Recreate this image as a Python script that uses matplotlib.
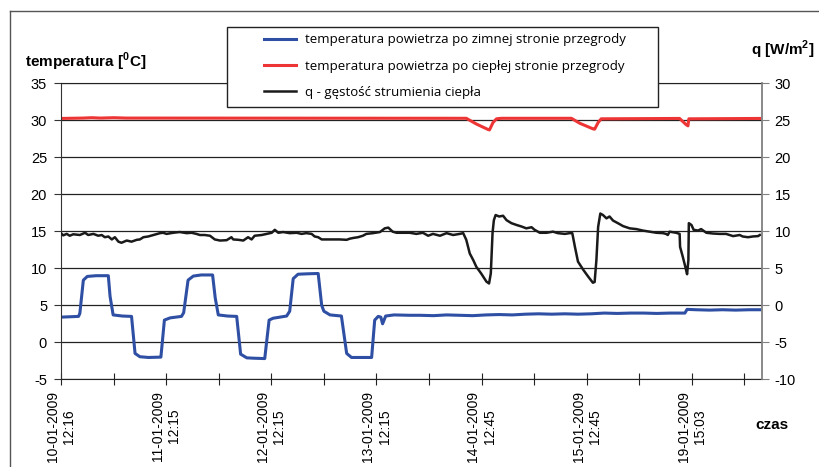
import matplotlib
matplotlib.use('Agg')
import matplotlib.pyplot as plt
from matplotlib.lines import Line2D
from matplotlib.patches import Rectangle

plt.rcParams['font.family'] = ['Liberation Sans', 'DejaVu Sans']
plt.rcParams['mathtext.fontset'] = 'custom'
plt.rcParams['mathtext.rm'] = 'Liberation Sans'
plt.rcParams['mathtext.bf'] = 'Liberation Sans:bold'
plt.rcParams['axes.unicode_minus'] = False

# x positions in measurement hours (tick every 12 h)
tick_pos = [0, 12, 24, 36, 48, 60, 72, 84, 96, 108, 120, 132, 144, 156]
tick_labels = ['10-01-2009\n12:16', '', '11-01-2009\n12:15', '', '12-01-2009\n12:15', '',
               '13-01-2009\n12:15', '', '14-01-2009\n12:45', '', '15-01-2009\n12:45', '',
               '19-01-2009\n15:03', '']

# temperatura po zimnej stronie [C]
cold_x = [0, 2, 4.0, 4.3, 5.1, 6.0, 8, 10.8, 11.2, 11.9, 14, 16.1, 16.9, 18.0, 20, 22.8,
          23.6, 24.9, 27.5, 28.0, 29.0, 30.2, 32, 34.6, 35.2, 35.9, 38, 40.1, 41.0, 42.4,
          44, 46.5, 47.5, 48.4, 51.5, 52.2, 53.0, 54.1, 56, 58.7, 59.5, 60.0, 61.4, 64.0,
          65.2, 66.3, 70.9, 71.6, 72.4, 73.0, 73.4, 74.1, 76, 79.6, 82, 85, 88, 91, 94,
          97, 100, 103, 106, 109, 112, 115, 118, 121, 124, 127, 130, 133, 136, 139, 142.4,
          142.9, 145, 148, 151, 154, 157, 159.5]
cold_t = [3.4, 3.45, 3.5, 3.9, 8.4, 8.9, 9.0, 9.0, 6.2, 3.7, 3.55, 3.5, -1.5, -1.95, -2.05, -2.0,
          3.0, 3.3, 3.5, 4.0, 8.4, 8.95, 9.1, 9.1, 6.0, 3.7, 3.55, 3.5, -1.6, -2.1,
          -2.15, -2.2, 3.0, 3.25, 3.55, 4.2, 8.6, 9.2, 9.25, 9.3, 5.0, 4.2, 3.7, 3.55,
          -1.5, -2.05, -2.05, 3.0, 3.5, 3.4, 2.5, 3.55, 3.7, 3.65, 3.65, 3.6, 3.7, 3.65, 3.6,
          3.7, 3.75, 3.7, 3.8, 3.85, 3.8, 3.85, 3.8, 3.85, 3.95, 3.9, 3.95, 3.95, 3.9, 3.95, 3.95,
          4.45, 4.4, 4.35, 4.4, 4.35, 4.4, 4.4]

# temperatura po cieplej stronie [C]
warm_x = [0, 5, 7, 9, 12, 15, 20, 92.5, 94.8, 97.5, 97.8, 98.6, 99.4, 100.5, 116.5, 118.4,
          121.4, 121.8, 122.6, 123.3, 141.2, 142.7, 143.1, 143.3, 159.5]
warm_t = [30.25, 30.3, 30.35, 30.3, 30.35, 30.3, 30.3, 30.27, 29.5, 28.75, 28.7, 29.7, 30.2, 30.27,
          30.27, 29.6, 28.85, 28.8, 29.7, 30.2, 30.25, 29.4, 29.25, 30.2, 30.25]

# q - gestosc strumienia ciepla [W/m2]
q_x = [0, 0.5, 1.3, 2.0, 2.8, 4.3, 5.5, 6.2, 7.4, 8.5, 9.3, 10.0, 10.8, 11.6, 12.3, 13.1, 13.8,
       15.0, 16.1, 17.3, 18.0, 18.8, 19.9, 21.1, 22.6, 23.3, 24.1, 25.6, 27.1, 28.7, 29.8,
       30.9, 31.7, 32.8, 34.0, 35.1, 36.3, 37.8, 38.9, 39.3, 40.5, 41.6, 42.7, 43.5, 44.2,
       45.8, 46.9, 48.1, 48.8, 49.6, 50.7, 52.2, 53.8, 54.9, 56.0, 57.2, 57.9, 58.7, 59.5,
       62.1, 63.6, 65.2, 65.9, 66.7, 67.8, 68.9, 69.7, 71.2, 72.8, 73.9, 74.7, 75.7, 76.6,
       78.1, 79.6, 81.1, 82.6, 83.8, 84.9, 86.5, 88.0, 89.5, 91.0, 91.8, 92.5, 93.3, 94.1,
       94.8, 95.9, 97.1, 97.7, 98.1, 98.5, 98.8, 99.2, 100.0, 100.9, 101.7, 102.8, 104.0,
       105.1, 106.2, 107.4, 108.1, 109.3, 110.8, 112.3, 113.4, 115.0, 116.1, 116.7, 117.3,
       118.0, 119.2, 120.3, 121.4, 121.8, 122.2, 122.6, 123.1, 123.7, 124.5, 125.2, 126.0,
       127.1, 128.3, 129.8, 131.3, 132.8, 134.4, 135.9, 137.4, 138.1, 138.5, 138.9, 140.4,
       141.2, 141.3, 141.9, 142.5, 142.9, 143.2, 143.3, 143.9, 144.4, 145.4, 146.1, 147.3,
       148.8, 150.3, 151.8, 153.4, 154.9, 155.6, 156.8, 157.9, 159.1, 159.5]
q_val = [9.75, 9.45, 9.65, 9.4, 9.6, 9.5, 9.8, 9.5, 9.65, 9.4, 9.5, 9.2, 9.3, 8.9, 9.2, 8.6, 8.45,
         8.75, 8.6, 8.85, 8.9, 9.2, 9.3, 9.5, 9.75, 9.8, 9.65, 9.8, 9.9, 9.75, 9.8,
         9.65, 9.5, 9.5, 9.4, 8.9, 8.75, 8.8, 9.2, 8.9, 8.85, 8.75, 9.2, 8.9, 9.4,
         9.5, 9.65, 9.8, 10.2, 9.8, 9.9, 9.75, 9.8, 9.65, 9.75, 9.65, 9.3, 9.2, 8.9,
         8.9, 8.9, 8.85, 9.0, 9.1, 9.2, 9.4, 9.65, 9.75, 9.9, 10.4, 10.5, 9.95, 9.8,
         9.8, 9.8, 9.65, 9.8, 9.4, 9.65, 9.4, 9.75, 9.5, 9.65, 9.75, 8.85, 7.0, 6.1,
         5.2, 4.3, 3.2, 2.95, 4.3, 9.8, 11.5, 12.2, 12.0, 12.1, 11.5, 11.1, 10.85,
         10.65, 10.4, 10.55, 10.2, 9.8, 9.8, 9.95, 9.75, 9.65, 9.75, 9.75, 7.9,
         5.9, 4.8, 3.9, 3.05, 3.15, 6.1, 10.6, 12.4, 12.2, 11.75, 12.0, 11.45,
         11.1, 10.7, 10.4, 10.3, 10.1, 9.95, 9.8, 9.75, 9.65, 9.5, 9.95, 9.8,
         9.65, 7.9, 6.6, 5.2, 4.2, 6.1, 11.1, 10.85, 10.2, 10.1, 10.3, 9.8,
         9.7, 9.65, 9.65, 9.35, 9.5, 9.3, 9.2, 9.3, 9.35, 9.5]

fig = plt.figure(figsize=(8.2, 4.67), dpi=100)
ax = fig.add_axes([61 / 820, 87.7 / 467, 701 / 820, 296 / 467])
ax2 = ax.twinx()

ax.plot(cold_x, cold_t, color='#2E4FA3', lw=2.2, label='temperatura powietrza po zimnej stronie przegrody')
ax.plot(warm_x, warm_t, color='#EE3535', lw=2.2, label='temperatura powietrza po ciepłej stronie przegrody')
ax2.plot(q_x, q_val, color='#1A1A1A', lw=1.8, label='q - gęstość strumienia ciepła')

ax.set_xlim(0, 160)
ax.set_ylim(-5, 35)
ax2.set_ylim(-10, 30)
ax.set_yticks(range(-5, 40, 5))
ax2.set_yticks(range(-10, 35, 5))
ax.set_xticks(tick_pos)
ax.set_xticklabels(tick_labels, rotation=90, multialignment='center', fontsize=10)
ax.grid(axis='y', color='#222222', lw=0.9)
ax.set_axisbelow(True)

ax.spines['right'].set_visible(False)
ax.spines['top'].set_color('#222222')
ax.spines['left'].set_color('#333333')
ax.spines['bottom'].set_color('#222222')
for s in ['left', 'top', 'bottom']:
    ax2.spines[s].set_visible(False)
ax2.spines['right'].set_color('#808080')
ax2.spines['right'].set_linewidth(1.3)

ax.tick_params(axis='y', direction='out', length=5, pad=5, labelsize=10.5, color='#333333')
ax.tick_params(axis='x', direction='inout', length=9, pad=4, color='#222222')
ax2.tick_params(axis='y', direction='out', length=5, pad=4, labelsize=10.5, color='#808080')

fig.text(25 / 820, 1 - 62 / 467, r'temperatura [$^{\mathbf{0}}$C]', fontsize=11,
         fontweight='bold', va='center', ha='left')
fig.text(815 / 820, 1 - 50 / 467, r'q [W/m$^{\mathbf{2}}$]', fontsize=11,
         fontweight='bold', va='center', ha='right')
fig.text(755 / 820, 1 - 425 / 467, 'czas', fontsize=11, fontweight='bold',
         va='center', ha='left')

# outer chart frame
fig.add_artist(Line2D([10 / 820, 1], [1 - 11 / 467, 1 - 11 / 467], color='#555555', lw=1))
fig.add_artist(Line2D([10 / 820, 10 / 820], [0, 1 - 11 / 467], color='#555555', lw=1))

# legend box
fig.add_artist(Rectangle((227 / 820, 1 - 107 / 467), 431 / 820, 80 / 467,
                         transform=fig.transFigure, facecolor='white',
                         edgecolor='#222222', lw=1, zorder=5))
handles = ax.get_lines() + ax2.get_lines()
leg = fig.legend(handles, [h.get_label() for h in handles], loc='upper left',
                 bbox_to_anchor=(264 / 820, 1 - 33.5 / 467), frameon=False,
                 borderaxespad=0, borderpad=0, handlelength=2.4, handletextpad=0.7,
                 labelspacing=1.0, prop={'family': 'Open Sans', 'size': 9.5})
leg.set_zorder(6)

fig.savefig('out.png', dpi=100)
